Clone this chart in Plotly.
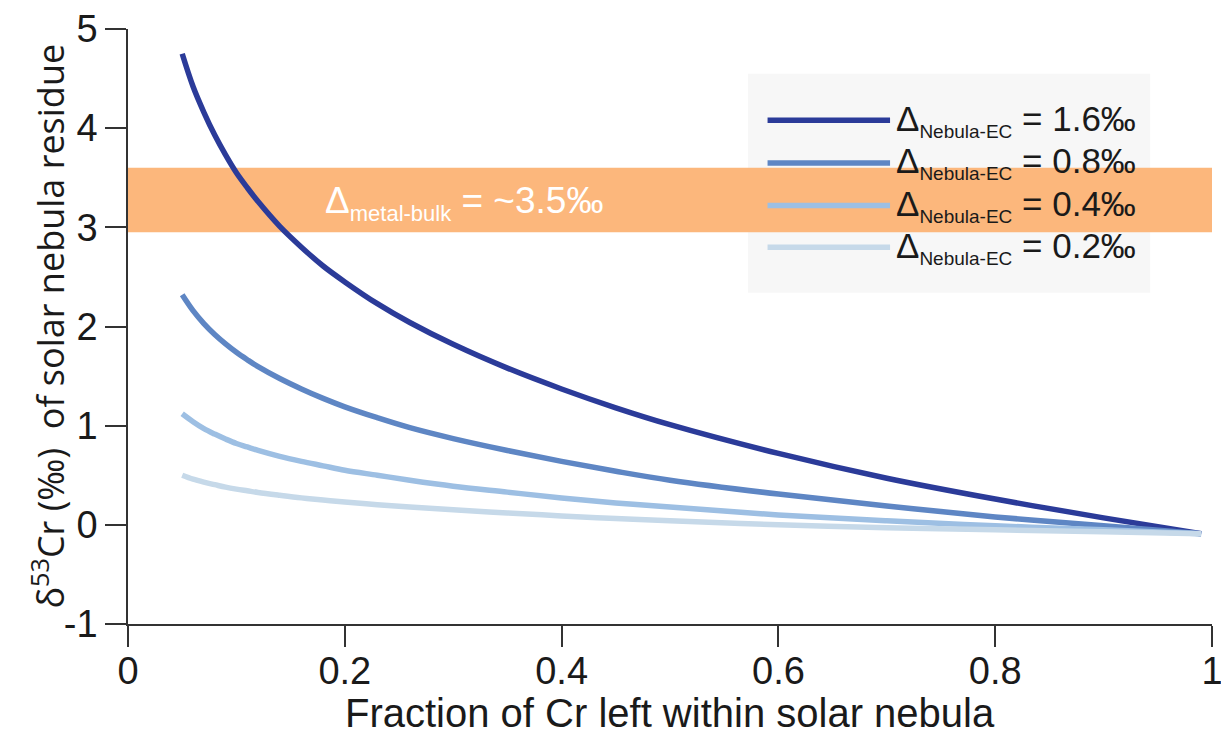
import plotly.graph_objects as go

# Fraction of Cr remaining in the nebula (x) and residue δ53Cr (‰) for each fractionation factor
fraction = [0.05, 0.06, 0.07, 0.08, 0.09, 0.10, 0.11, 0.12, 0.14, 0.16, 0.18, 0.20,
            0.23, 0.26, 0.30, 0.35, 0.40, 0.45, 0.50, 0.60, 0.70, 0.80, 0.90, 0.99]
delta_1_6 = [4.75, 4.42, 4.16, 3.93, 3.73, 3.55, 3.40, 3.26, 3.01, 2.80, 2.61, 2.45,
             2.23, 2.04, 1.82, 1.58, 1.37, 1.18, 1.01, 0.72, 0.47, 0.26, 0.07, -0.09]
delta_0_8 = [2.32, 2.16, 2.03, 1.92, 1.825, 1.74, 1.665, 1.595, 1.475, 1.37, 1.275, 1.19,
             1.08, 0.98, 0.87, 0.75, 0.64, 0.54, 0.45, 0.31, 0.19, 0.08, -0.01, -0.09]
delta_0_4 = [1.12, 1.04, 0.97, 0.915, 0.865, 0.82, 0.785, 0.75, 0.69, 0.64, 0.595, 0.55,
             0.50, 0.45, 0.39, 0.33, 0.27, 0.22, 0.18, 0.10, 0.04, -0.01, -0.05, -0.09]
delta_0_2 = [0.50, 0.46, 0.43, 0.405, 0.38, 0.36, 0.343, 0.326, 0.298, 0.272, 0.25, 0.23,
             0.203, 0.18, 0.152, 0.12, 0.09, 0.063, 0.04, 0.00, -0.03, -0.05, -0.07, -0.09]

series_labels = ["1.6", "0.8", "0.4", "0.2"]
series_values = [delta_1_6, delta_0_8, delta_0_4, delta_0_2]
series_colors = ["#2B3B99", "#5E86C4", "#9DBFE3", "#C6D9E9"]

# metal-bulk offset band (‰)
band_low, band_high = 2.95, 3.60

x_tick_vals = [0, 0.2, 0.4, 0.6, 0.8, 1]
x_tick_text = ["0", "0.2", "0.4", "0.6", "0.8", "1"]
y_tick_vals = [-1, 0, 1, 2, 3, 4, 5]
y_tick_text = ["-1", "0", "1", "2", "3", "4", "5"]

# legend rows (y positions in data units) for the hand-drawn key
legend_rows = [4.08, 3.65, 3.22, 2.80]

FONT = "Liberation Sans, Arial, sans-serif"
TEXT = "#1a1a1a"
AXIS = "#333333"

fig = go.Figure()

for label, vals, color in zip(series_labels, series_values, series_colors):
    fig.add_trace(go.Scatter(
        x=fraction, y=vals, mode="lines",
        name=f"Δ Nebula-EC = {label}‰",
        line=dict(color=color, width=5.5, shape="spline", smoothing=1.0),
        showlegend=False, hoverinfo="x+y",
    ))

shapes = [
    dict(type="rect", xref="x", yref="y", x0=0, x1=1, y0=band_low, y1=band_high,
         fillcolor="#FCB77C", line=dict(width=0), layer="below"),
    dict(type="rect", xref="paper", yref="y", x0=0.572, x1=0.943, y0=2.34, y1=4.55,
         fillcolor="#F7F7F7", line=dict(width=0), layer="below"),
]
annotations = []
for row_y, label, color in zip(legend_rows, series_labels, series_colors):
    shapes.append(dict(type="line", xref="paper", yref="y", x0=0.590, x1=0.703,
                       y0=row_y, y1=row_y, line=dict(color=color, width=5.5)))
    annotations.append(dict(
        xref="paper", yref="y", x=0.7065, y=row_y, xanchor="left", yanchor="middle",
        text=("Δ<sub><span style='font-size:19px'>Nebula-EC</span></sub>"
              f" = {label}‰"),
        showarrow=False, font=dict(family=FONT, size=35, color=TEXT),
    ))

annotations.append(dict(
    xref="x", yref="y", x=0.180, y=3.25, xanchor="left", yanchor="middle",
    text="Δ<sub><span style='font-size:22px'>metal-bulk</span></sub> = ~3.5‰",
    showarrow=False, font=dict(family=FONT, size=37, color="#FFFFFF"),
))

# axis titles
annotations.append(dict(
    xref="paper", yref="paper", x=0.5, y=-0.109, xanchor="center", yanchor="top",
    text="Fraction of Cr left within solar nebula",
    showarrow=False, font=dict(family=FONT, size=40, color=TEXT),
))
annotations.append(dict(
    xref="paper", yref="paper", x=-0.0738, y=0.5, xanchor="center", yanchor="middle",
    textangle=-90,
    text="δ<sup>53</sup>Cr (‰)\u00a0 of solar nebula residue",
    showarrow=False, font=dict(family="Open Sans, sans-serif", size=36, color=TEXT),
))

fig.update_layout(
    width=1221, height=734,
    margin=dict(l=128, r=9, t=29, b=110, autoexpand=False),
    paper_bgcolor="#FFFFFF", plot_bgcolor="#FFFFFF",
    shapes=shapes, annotations=annotations,
    showlegend=False,
)
fig.update_xaxes(
    range=[0, 1], tickvals=x_tick_vals, ticktext=x_tick_text, automargin=False,
    showgrid=False, zeroline=False, showline=True, linecolor=AXIS, linewidth=1.5,
    ticks="outside", ticklen=21, tickwidth=1.5, tickcolor=AXIS,
    ticklabeloverflow="allow", ticklabelstandoff=-8,
    tickfont=dict(family=FONT, size=38, color=TEXT),
)
fig.update_yaxes(
    range=[-1, 5], tickvals=y_tick_vals, ticktext=y_tick_text, automargin=False,
    showgrid=False, zeroline=False, showline=True, linecolor=AXIS, linewidth=1.5,
    ticks="outside", ticklen=21, tickwidth=1.5, tickcolor=AXIS,
    tickfont=dict(family=FONT, size=38, color=TEXT),
)

fig.write_html("out.html")
